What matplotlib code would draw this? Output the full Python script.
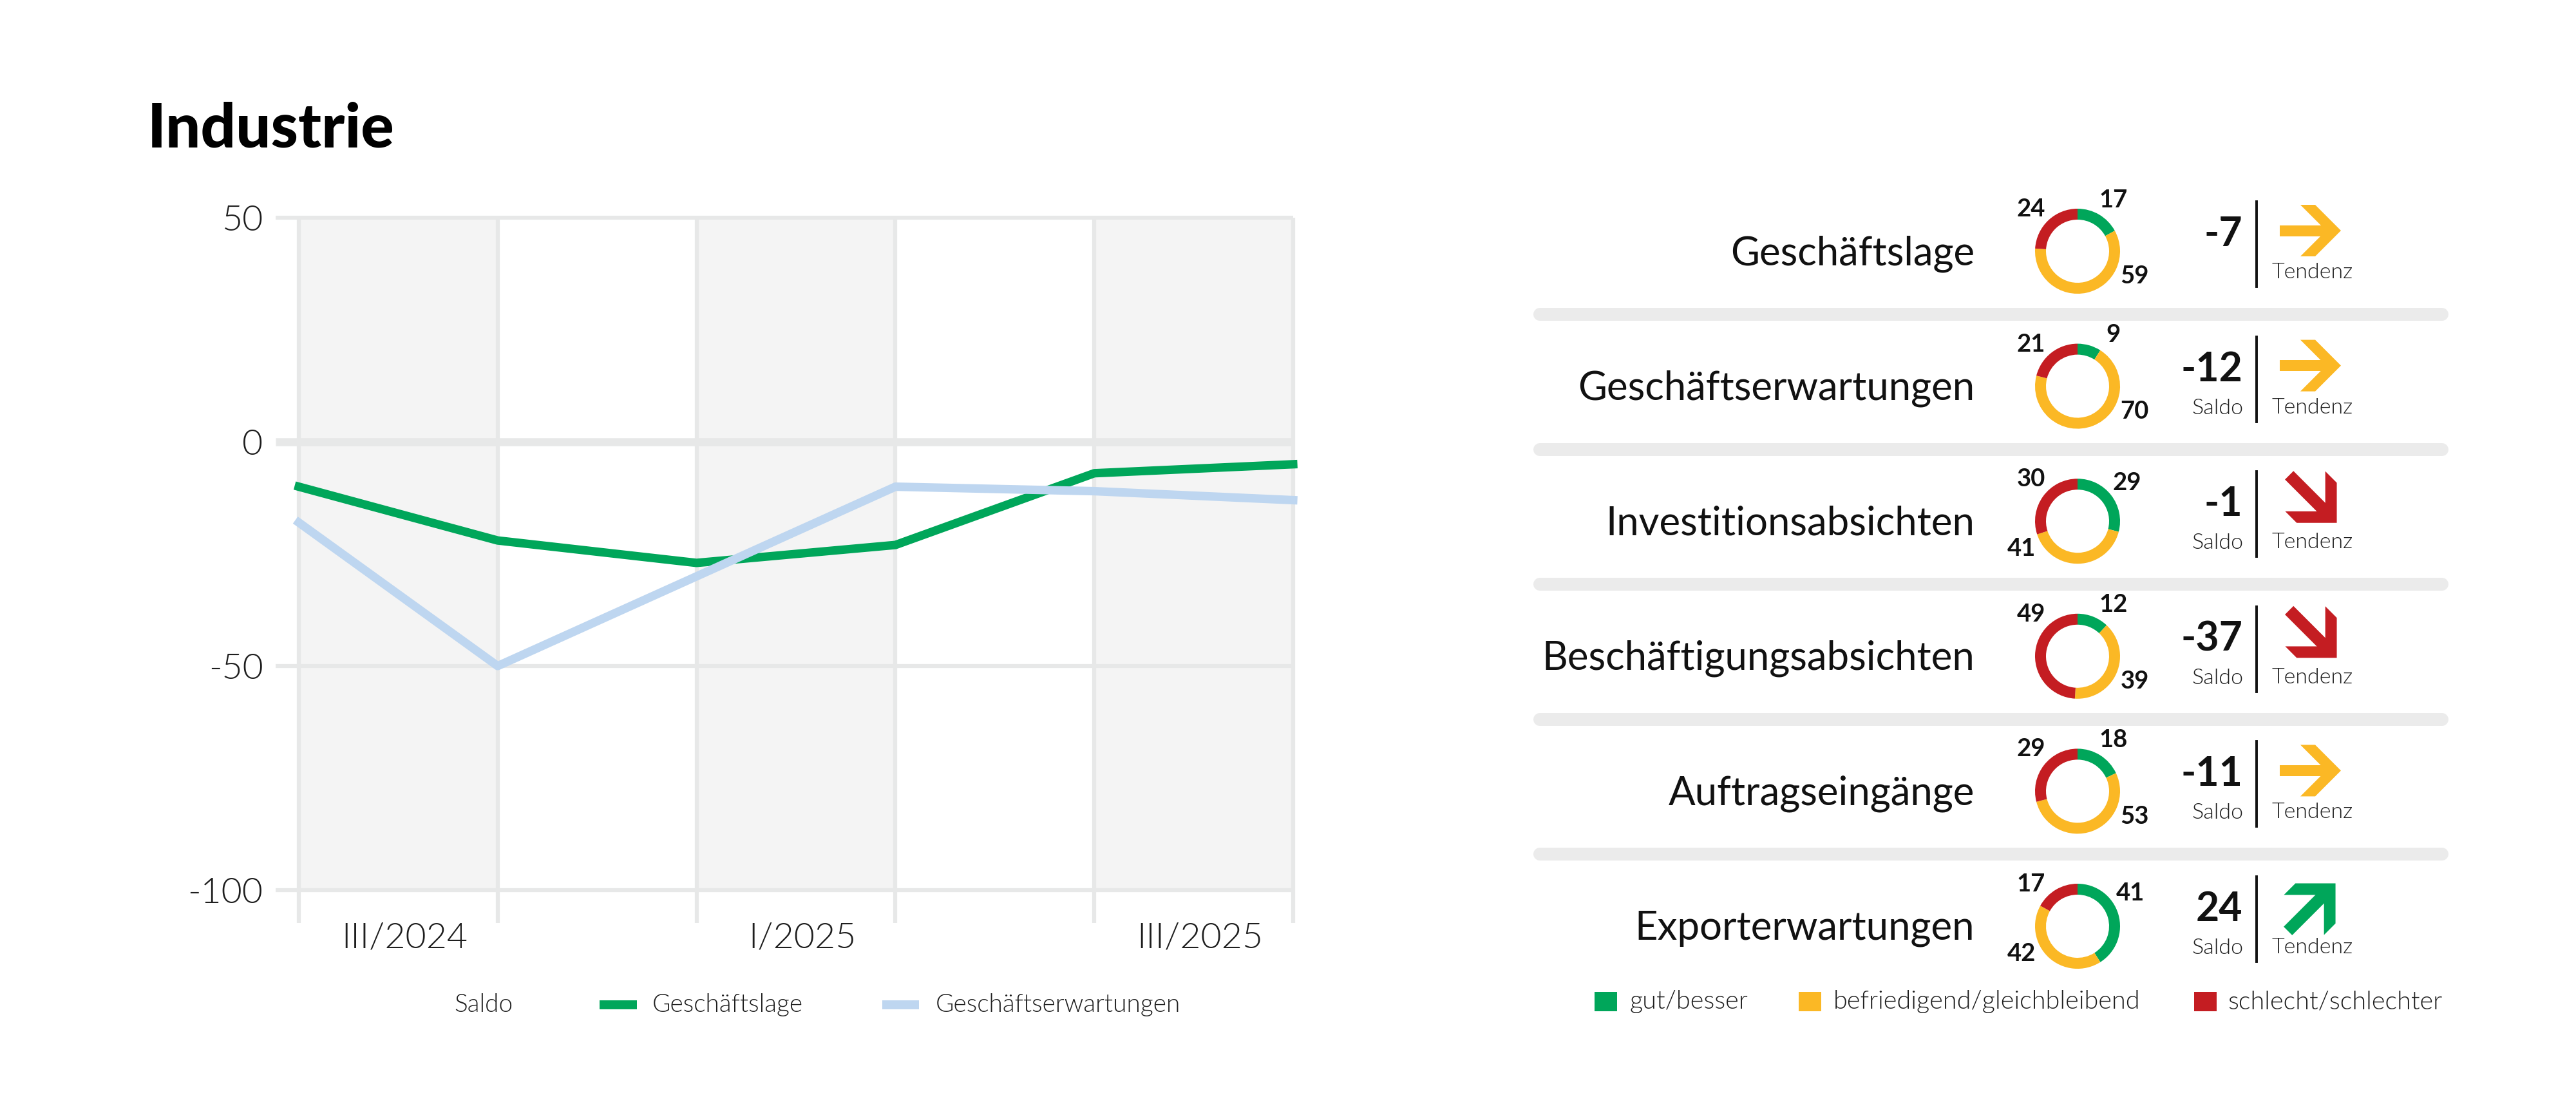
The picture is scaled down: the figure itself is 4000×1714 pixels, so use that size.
import numpy as np
import matplotlib.pyplot as plt
from matplotlib.patches import Wedge, Polygon, Rectangle

plt.rcParams['font.family'] = ['Lato', 'DejaVu Sans']

# Saldo-Verlauf (links)
quartale = ['III/2024', 'IV/2024', 'I/2025', 'II/2025', 'III/2025', 'IV/2025']
band_labels = ['III/2024', '', 'I/2025', '', 'III/2025']
geschaeftslage = [-10, -22, -27, -23, -7, -5]
geschaeftserwartungen = [-18, -50, -30, -10, -11, -13]
y_ticks = [50, 0, -50, -100]

# Indikatoren (rechts)
indikatoren = ['Geschäftslage', 'Geschäftserwartungen', 'Investitionsabsichten',
               'Beschäftigungsabsichten', 'Auftragseingänge', 'Exporterwartungen']
gut = [17, 9, 29, 12, 18, 41]
befriedigend = [59, 70, 41, 39, 53, 42]
schlecht = [24, 21, 30, 49, 29, 17]
saldo = [-7, -12, -1, -37, -11, 24]
tendenz = ['gleich', 'gleich', 'runter', 'runter', 'gleich', 'hoch']
saldo_label = [False, True, True, True, True, True]
legend_labels = ['gut/besser', 'befriedigend/gleichbleibend', 'schlecht/schlechter']

GREEN = '#00a65a'
YELLOW = '#fbb825'
RED = '#c41d22'
BLUE = '#bed6f0'
GRID = '#e7e8e8'
BAND = '#f4f4f4'
TXT = '#1e1e1e'
LIGHT = 300

W, H = 4000, 1714
fig = plt.figure(figsize=(W / 100, H / 100), dpi=100)

# ---------- Liniendiagramm
ax_l, ax_r, ax_t, ax_b = 464, 2008, 338, 1382
ax = fig.add_axes([ax_l / W, (H - ax_b) / H, (ax_r - ax_l) / W, (ax_b - ax_t) / H])
n = len(quartale)
ax.set_xlim(0, n - 1)
ax.set_ylim(-100, 50)
px_x = (ax_r - ax_l) / (n - 1)
px_y = (ax_b - ax_t) / 150

for i in range(0, n - 1, 2):
    ax.axvspan(i, i + 1, color=BAND, lw=0, zorder=0)
ax.vlines(range(n), -100 - 51 / px_y, 50, color=GRID, lw=4.5, zorder=1, clip_on=False)
for y in y_ticks:
    ax.hlines(y, -36 / px_x, n - 1, color=GRID, lw=9 if y == 0 else 4.5, zorder=1, clip_on=False)

x = np.arange(n)
ax.plot(x, geschaeftslage, color=GREEN, lw=9.5, solid_joinstyle='round', zorder=3, clip_on=False)
ax.plot(x, geschaeftserwartungen, color=BLUE, lw=9.5, solid_joinstyle='round', zorder=4, clip_on=False)

ax.set_xticks([])
ax.set_xticks([i + 0.5 + 10 / px_x for i in range(n - 1)], minor=True)
ax.set_xticklabels(band_labels, minor=True)
ax.set_yticks(y_ticks)
ax.set_yticklabels([str(v) for v in y_ticks])
ax.tick_params(axis='x', which='minor', length=0, pad=36, labelsize=40, labelcolor=TXT)
ax.tick_params(axis='y', length=0, pad=40, labelsize=40, labelcolor=TXT)
for lab in ax.get_xticklabels(minor=True) + ax.get_yticklabels():
    lab.set_fontweight(LIGHT)
for s in ax.spines.values():
    s.set_visible(False)
ax.patch.set_alpha(0)

# ---------- Overlay in Pixelkoordinaten
ov = fig.add_axes([0, 0, 1, 1])
ov.set_xlim(0, W)
ov.set_ylim(H, 0)
ov.axis('off')
ov.patch.set_alpha(0)

ov.text(229, 228, 'Industrie', fontsize=69, fontweight='black', va='baseline', ha='left', color='black')

# Legende links
ly = 1560
ov.text(705, ly, 'Saldo', fontsize=28, fontweight=LIGHT, va='center', color=TXT)
ov.plot([931, 989], [ly, ly], color=GREEN, lw=10, solid_capstyle='butt')
ov.text(1013, ly, 'Geschäftslage', fontsize=28, fontweight=LIGHT, va='center', color=TXT)
ov.plot([1370, 1427], [ly, ly], color=BLUE, lw=10, solid_capstyle='butt')
ov.text(1453, ly, 'Geschäftserwartungen', fontsize=28, fontweight=LIGHT, va='center', color=TXT)


def arrow(cx, cy, rot, color, scale=1.0):
    x1, h, w, t = 47, 40, 23, 8.5
    chevron = [(x1 - h - w, h), (x1 - h, h), (x1, 0), (x1 - h, -h), (x1 - h - w, -h), (x1 - w, 0)]
    stem = [(-48, -t), (x1 - w + 6, -t), (x1 - w + 6, t), (-48, t)]
    r = np.radians(rot)
    c, s = np.cos(r), np.sin(r)
    for shape in (chevron, stem):
        pts = [(cx + scale * (px * c - py * s), cy - scale * (px * s + py * c)) for px, py in shape]
        ov.add_patch(Polygon(pts, closed=True, color=color, lw=0))


cx_d, R, ring = 3226, 66, 17
row_step = 209.6
for i, name in enumerate(indikatoren):
    rc = 390 + i * row_step
    ov.text(3066, rc + 21, name, fontsize=44.5, ha='right', va='baseline', color='#111111')

    vals = [gut[i], befriedigend[i], schlecht[i]]
    cols = [GREEN, YELLOW, RED]
    total = sum(vals)
    a0 = 0.0
    for k, (v, col) in enumerate(zip(vals, cols)):
        a1 = a0 + 360 * v / total
        ov.add_patch(Wedge((cx_d, rc), R, a0 - 90, a1 - 90, width=ring, color=col, lw=0))
        mid = (a0 + a1) / 2
        if k == 0:
            la = np.clip(mid, 35, 58)
        elif k == 1:
            la = 114 if mid < 175 else 244
        else:
            la = 312
        D = 97
        lx = cx_d + D * np.sin(np.radians(la))
        lyy = rc - D * np.cos(np.radians(la))
        ov.text(lx, lyy, str(v), fontsize=27.5, fontweight='bold', ha='center', va='center', color='#111111')
        a0 = a1

    ov.text(3482, rc - 26, str(saldo[i]), fontsize=45, fontweight='bold', ha='right', va='center', color='#111111')
    if saldo_label[i]:
        ov.text(3484, rc + 34, 'Saldo', fontsize=24.5, fontweight=LIGHT, ha='right', va='center', color=TXT)
    ov.plot([3504, 3504], [rc - 77, rc + 55], color='#111111', lw=2.8)
    ov.text(3527, rc + 33, 'Tendenz', fontsize=24.5, fontweight=LIGHT, ha='left', va='center', color=TXT)

    if tendenz[i] == 'gleich':
        arrow(3588, rc - 32, 0, YELLOW)
    elif tendenz[i] == 'runter':
        arrow(3592, rc - 34, -45, RED, 1.1)
    else:
        arrow(3590, rc - 30, 45, GREEN, 1.1)

    if i < len(indikatoren) - 1:
        sy = rc + 98
        ov.plot([2391, 3792], [sy, sy], color='#ebebeb', lw=14.4, solid_capstyle='round')

# Legende rechts
leg_y = 1555
for xs, xt, col, lab in zip([2476, 2793, 3407], [2531, 2847, 3459], [GREEN, YELLOW, RED], legend_labels):
    ov.add_patch(Rectangle((xs, leg_y - 15), 35, 30, color=col, lw=0))
    ov.text(xt, leg_y, lab, fontsize=28.5, fontweight=LIGHT, va='center', color=TXT)

fig.savefig('out.png', dpi=100)
